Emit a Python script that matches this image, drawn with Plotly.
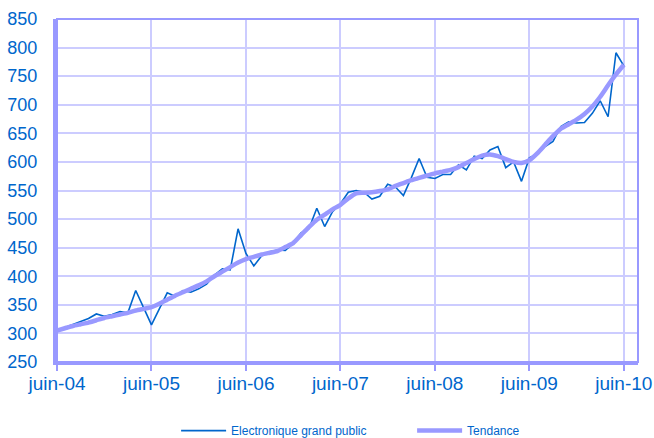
import plotly.graph_objects as go

# Monthly index: 0 = juin-04 ... 72 = juin-10
months = list(range(73))
tick_months = [0, 12, 24, 36, 48, 60, 72]
tick_labels = ["juin-04", "juin-05", "juin-06", "juin-07", "juin-08", "juin-09", "juin-10"]
y_ticks = [250, 300, 350, 400, 450, 500, 550, 600, 650, 700, 750, 800, 850]

electronique = [
    305, 310, 316, 320, 326, 334, 330, 333, 338, 336, 375, 345,
    315, 343, 371, 365, 375, 372, 378, 386, 402, 413, 411, 483,
    440, 418, 436, 443, 446, 445, 458, 476, 483, 519, 487, 513,
    527, 547, 550, 547, 535, 540, 561, 556, 541, 572, 606, 573,
    571, 578, 578, 595, 586, 610, 606, 621, 627, 590, 600, 566,
    607, 614, 627, 636, 662, 670, 668, 669, 685, 707, 679, 791,
    768,
]

tendance = [
    305, 309, 313, 316, 319, 323, 327, 330, 333, 336, 340, 343,
    346, 352, 359, 366, 372, 378, 384, 391, 400, 408, 416, 424,
    430, 434, 438, 441, 444, 451, 458, 472, 486, 499, 508, 517,
    525, 536, 545, 546, 547, 549, 552, 558, 563, 568, 572, 576,
    580, 583, 586, 591, 598, 605, 611, 613, 610, 605, 600, 598,
    603, 615, 630, 645, 658, 666, 674, 684, 697, 714, 734, 753,
    770,
]

text_blue = "#0066CC"
frame = "#9999FF"
grid = "#CCCCFF"

fig = go.Figure()
fig.add_trace(go.Scatter(
    x=months, y=electronique, mode="lines", name="Electronique grand public",
    line=dict(color="#0066CC", width=1.6),
))
fig.add_trace(go.Scatter(
    x=months, y=tendance, mode="lines", name="Tendance",
    line=dict(color="#9999FF", width=4.5, shape="spline", smoothing=0.6),
))

fig.update_layout(
    width=654, height=438,
    margin=dict(l=57, r=16, t=19, b=76, autoexpand=False),
    paper_bgcolor="white", plot_bgcolor="white",
    font=dict(family="Liberation Sans, Arial, sans-serif", color=text_blue, size=18),
    showlegend=True,
    hovermode=False,
    legend=dict(
        orientation="h", x=0.205, xanchor="left", y=-0.2, yanchor="middle",
        font=dict(size=12, color=text_blue),
        bgcolor="rgba(0,0,0,0)",
        itemwidth=45, entrywidth=176, entrywidthmode="pixels",
    ),
    shapes=[dict(
        type="rect", xref="paper", yref="paper", x0=0, x1=1, y0=0, y1=1,
        line=dict(color=frame, width=2), layer="above",
    )],
)

fig.update_xaxes(
    range=[0, 73.8], automargin=False,
    tickmode="array", tickvals=tick_months, ticktext=tick_labels,
    showgrid=True, gridcolor=grid, gridwidth=2,
    showline=True, linecolor=frame, linewidth=3,
    ticks="outside", ticklen=6, tickwidth=2, tickcolor=frame,
    ticklabelstandoff=-4,
    tickfont=dict(size=19, color=text_blue),
    zeroline=False,
)
fig.update_yaxes(
    range=[250, 850], automargin=False,
    tickmode="array", tickvals=y_ticks,
    showgrid=True, gridcolor=grid, gridwidth=2,
    showline=True, linecolor=frame, linewidth=4,
    ticks="", ticklabelstandoff=12,
    tickfont=dict(size=18, color=text_blue),
    zeroline=False,
)

# Remove the browser's default body margin so the figure fills the window exactly
fig.write_html(
    "out.html",
    config={"displayModeBar": False},
    post_script="document.body.style.margin='0px';"
                "document.documentElement.style.overflow='hidden';",
)
